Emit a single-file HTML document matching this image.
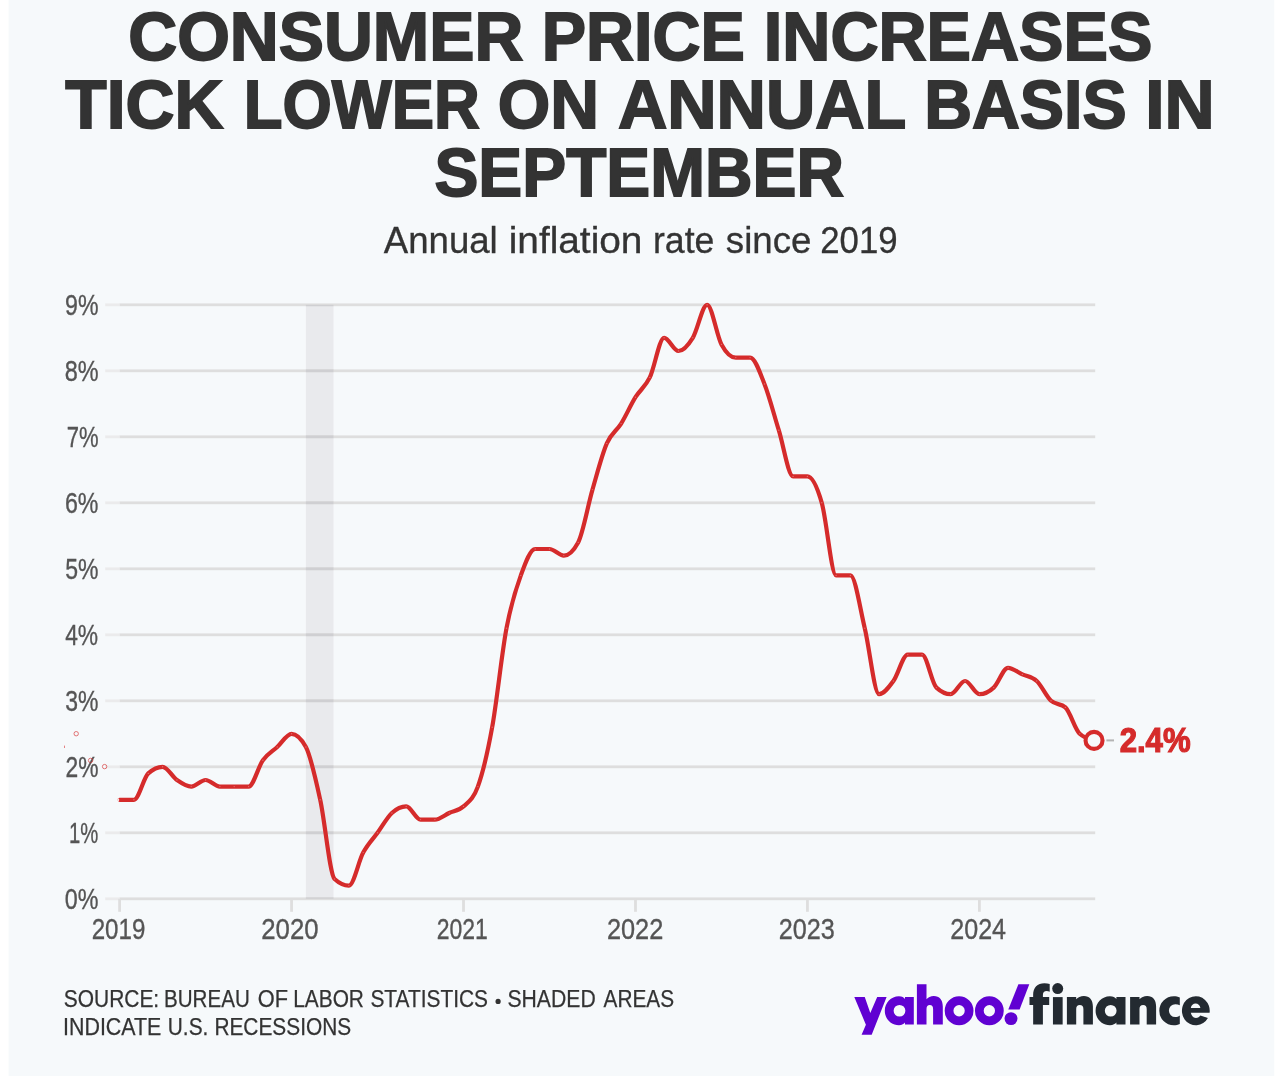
<!DOCTYPE html>
<html lang="en">
<head>
<meta charset="utf-8">
<title>Consumer price increases tick lower on annual basis in September</title>
<style>
html,body{margin:0;padding:0;background:#ffffff;}
body{width:1288px;height:1076px;overflow:hidden;font-family:"Liberation Sans",sans-serif;}
svg{display:block;}
svg text{font-family:"Liberation Sans",sans-serif;}
</style>
</head>
<body>
<svg width="1288" height="1076" viewBox="0 0 1288 1076" style="will-change:transform">
<rect x="0" y="0" width="1288" height="1076" fill="#ffffff"/>
<rect x="8.6" y="0" width="1265.6" height="1076" fill="#f6f9fb"/>
<g id="title">
<text x="128.22" y="60.0" font-size="68.6" font-weight="bold" fill="#333333" text-anchor="start" textLength="395.17" lengthAdjust="spacingAndGlyphs" stroke="#333333" stroke-width="1.8" stroke-linejoin="miter">CONSUMER</text>
<text x="541.71" y="60.0" font-size="68.6" font-weight="bold" fill="#333333" text-anchor="start" textLength="203.19" lengthAdjust="spacingAndGlyphs" stroke="#333333" stroke-width="1.8" stroke-linejoin="miter">PRICE</text>
<text x="763.8" y="60.0" font-size="68.6" font-weight="bold" fill="#333333" text-anchor="start" textLength="388.56" lengthAdjust="spacingAndGlyphs" stroke="#333333" stroke-width="1.8" stroke-linejoin="miter">INCREASES</text>
<text x="65.36" y="128.2" font-size="68.6" font-weight="bold" fill="#333333" text-anchor="start" textLength="157.96" lengthAdjust="spacingAndGlyphs" stroke="#333333" stroke-width="1.8" stroke-linejoin="miter">TICK</text>
<text x="243.71" y="128.2" font-size="68.6" font-weight="bold" fill="#333333" text-anchor="start" textLength="236.14" lengthAdjust="spacingAndGlyphs" stroke="#333333" stroke-width="1.8" stroke-linejoin="miter">LOWER</text>
<text x="497.63" y="128.2" font-size="68.6" font-weight="bold" fill="#333333" text-anchor="start" textLength="101.29" lengthAdjust="spacingAndGlyphs" stroke="#333333" stroke-width="1.8" stroke-linejoin="miter">ON</text>
<text x="617.96" y="128.2" font-size="68.6" font-weight="bold" fill="#333333" text-anchor="start" textLength="288.37" lengthAdjust="spacingAndGlyphs" stroke="#333333" stroke-width="1.8" stroke-linejoin="miter">ANNUAL</text>
<text x="924.13" y="128.2" font-size="68.6" font-weight="bold" fill="#333333" text-anchor="start" textLength="202.47" lengthAdjust="spacingAndGlyphs" stroke="#333333" stroke-width="1.8" stroke-linejoin="miter">BASIS</text>
<text x="1145.22" y="128.2" font-size="68.6" font-weight="bold" fill="#333333" text-anchor="start" textLength="69.43" lengthAdjust="spacingAndGlyphs" stroke="#333333" stroke-width="1.8" stroke-linejoin="miter">IN</text>
<text x="434.46" y="196.0" font-size="68.6" font-weight="bold" fill="#333333" text-anchor="start" textLength="409.57" lengthAdjust="spacingAndGlyphs" stroke="#333333" stroke-width="1.8" stroke-linejoin="miter">SEPTEMBER</text>
</g>
<g id="subtitle">
<text x="383.78" y="252.9" font-size="36.5" font-weight="normal" fill="#333333" text-anchor="start" textLength="113.98" lengthAdjust="spacingAndGlyphs" stroke="#333333" stroke-width="0.3">Annual</text>
<text x="508.69" y="252.9" font-size="36.5" font-weight="normal" fill="#333333" text-anchor="start" textLength="133.74" lengthAdjust="spacingAndGlyphs" stroke="#333333" stroke-width="0.3">inflation</text>
<text x="653.0" y="252.9" font-size="36.5" font-weight="normal" fill="#333333" text-anchor="start" textLength="61.43" lengthAdjust="spacingAndGlyphs" stroke="#333333" stroke-width="0.3">rate</text>
<text x="725.86" y="252.9" font-size="36.5" font-weight="normal" fill="#333333" text-anchor="start" textLength="85.52" lengthAdjust="spacingAndGlyphs" stroke="#333333" stroke-width="0.3">since</text>
<text x="820.31" y="252.9" font-size="36.5" font-weight="normal" fill="#333333" text-anchor="start" textLength="77.29" lengthAdjust="spacingAndGlyphs" stroke="#333333" stroke-width="0.3">2019</text>
</g>
<rect x="305.9" y="304.8" width="27.6" height="594" fill="#e9eaed"/>
<g id="grid">
<rect x="105.2" y="897.40" width="14.4" height="2.8" fill="#ebebec"/><rect x="119.6" y="897.40" width="975.6" height="2.8" fill="#dedede"/>
<rect x="105.2" y="831.40" width="14.4" height="2.8" fill="#ebebec"/><rect x="119.6" y="831.40" width="975.6" height="2.8" fill="#dedede"/>
<rect x="105.2" y="765.40" width="14.4" height="2.8" fill="#ebebec"/><rect x="119.6" y="765.40" width="975.6" height="2.8" fill="#dedede"/>
<rect x="105.2" y="699.40" width="14.4" height="2.8" fill="#ebebec"/><rect x="119.6" y="699.40" width="975.6" height="2.8" fill="#dedede"/>
<rect x="105.2" y="633.40" width="14.4" height="2.8" fill="#ebebec"/><rect x="119.6" y="633.40" width="975.6" height="2.8" fill="#dedede"/>
<rect x="105.2" y="567.40" width="14.4" height="2.8" fill="#ebebec"/><rect x="119.6" y="567.40" width="975.6" height="2.8" fill="#dedede"/>
<rect x="105.2" y="501.40" width="14.4" height="2.8" fill="#ebebec"/><rect x="119.6" y="501.40" width="975.6" height="2.8" fill="#dedede"/>
<rect x="105.2" y="435.40" width="14.4" height="2.8" fill="#ebebec"/><rect x="119.6" y="435.40" width="975.6" height="2.8" fill="#dedede"/>
<rect x="105.2" y="369.40" width="14.4" height="2.8" fill="#ebebec"/><rect x="119.6" y="369.40" width="975.6" height="2.8" fill="#dedede"/>
<rect x="105.2" y="303.40" width="14.4" height="2.8" fill="#ebebec"/><rect x="119.6" y="303.40" width="975.6" height="2.8" fill="#dedede"/>
<rect x="305.9" y="897.40" width="27.6" height="1.40" fill="#cfcfd2"/><rect x="305.9" y="831.40" width="27.6" height="2.80" fill="#cfcfd2"/><rect x="305.9" y="765.40" width="27.6" height="2.80" fill="#cfcfd2"/><rect x="305.9" y="699.40" width="27.6" height="2.80" fill="#cfcfd2"/><rect x="305.9" y="633.40" width="27.6" height="2.80" fill="#cfcfd2"/><rect x="305.9" y="567.40" width="27.6" height="2.80" fill="#cfcfd2"/><rect x="305.9" y="501.40" width="27.6" height="2.80" fill="#cfcfd2"/><rect x="305.9" y="435.40" width="27.6" height="2.80" fill="#cfcfd2"/><rect x="305.9" y="369.40" width="27.6" height="2.80" fill="#cfcfd2"/><rect x="305.9" y="304.80" width="27.6" height="1.40" fill="#cfcfd2"/>
<rect x="118.20" y="898.80" width="2.8" height="13" fill="#dedede"/><rect x="290.16" y="898.80" width="2.8" height="13" fill="#dedede"/><rect x="462.12" y="898.80" width="2.8" height="13" fill="#dedede"/><rect x="634.08" y="898.80" width="2.8" height="13" fill="#dedede"/><rect x="806.04" y="898.80" width="2.8" height="13" fill="#dedede"/><rect x="978.00" y="898.80" width="2.8" height="13" fill="#dedede"/>
</g>
<g id="ylabels">
<text x="64.77" y="909.1" font-size="29.5" font-weight="normal" fill="#555555" text-anchor="start" textLength="33.68" lengthAdjust="spacingAndGlyphs" stroke="#555555" stroke-width="0.35">0%</text>
<text x="69.03" y="843.1" font-size="29.5" font-weight="normal" fill="#555555" text-anchor="start" textLength="29.31" lengthAdjust="spacingAndGlyphs" stroke="#555555" stroke-width="0.35">1%</text>
<text x="65.53" y="777.1" font-size="29.5" font-weight="normal" fill="#555555" text-anchor="start" textLength="33.0" lengthAdjust="spacingAndGlyphs" stroke="#555555" stroke-width="0.35">2%</text>
<text x="65.3" y="711.1" font-size="29.5" font-weight="normal" fill="#555555" text-anchor="start" textLength="33.24" lengthAdjust="spacingAndGlyphs" stroke="#555555" stroke-width="0.35">3%</text>
<text x="65.17" y="645.1" font-size="29.5" font-weight="normal" fill="#555555" text-anchor="start" textLength="32.96" lengthAdjust="spacingAndGlyphs" stroke="#555555" stroke-width="0.35">4%</text>
<text x="65.15" y="579.1" font-size="29.5" font-weight="normal" fill="#555555" text-anchor="start" textLength="33.28" lengthAdjust="spacingAndGlyphs" stroke="#555555" stroke-width="0.35">5%</text>
<text x="64.92" y="513.1" font-size="29.5" font-weight="normal" fill="#555555" text-anchor="start" textLength="33.53" lengthAdjust="spacingAndGlyphs" stroke="#555555" stroke-width="0.35">6%</text>
<text x="66.65" y="447.1" font-size="29.5" font-weight="normal" fill="#555555" text-anchor="start" textLength="31.85" lengthAdjust="spacingAndGlyphs" stroke="#555555" stroke-width="0.35">7%</text>
<text x="64.67" y="381.1" font-size="29.5" font-weight="normal" fill="#555555" text-anchor="start" textLength="33.89" lengthAdjust="spacingAndGlyphs" stroke="#555555" stroke-width="0.35">8%</text>
<text x="65.11" y="315.1" font-size="29.5" font-weight="normal" fill="#555555" text-anchor="start" textLength="33.43" lengthAdjust="spacingAndGlyphs" stroke="#555555" stroke-width="0.35">9%</text>
</g>
<g id="xlabels">
<text x="91.67" y="939" font-size="29.5" font-weight="normal" fill="#555555" text-anchor="start" textLength="53.71" lengthAdjust="spacingAndGlyphs" stroke="#555555" stroke-width="0.35">2019</text>
<text x="261.29" y="939" font-size="29.5" font-weight="normal" fill="#555555" text-anchor="start" textLength="57.33" lengthAdjust="spacingAndGlyphs" stroke="#555555" stroke-width="0.35">2020</text>
<text x="436.63" y="939" font-size="29.5" font-weight="normal" fill="#555555" text-anchor="start" textLength="51.12" lengthAdjust="spacingAndGlyphs" stroke="#555555" stroke-width="0.35">2021</text>
<text x="606.91" y="939" font-size="29.5" font-weight="normal" fill="#555555" text-anchor="start" textLength="56.4" lengthAdjust="spacingAndGlyphs" stroke="#555555" stroke-width="0.35">2022</text>
<text x="778.81" y="939" font-size="29.5" font-weight="normal" fill="#555555" text-anchor="start" textLength="56.11" lengthAdjust="spacingAndGlyphs" stroke="#555555" stroke-width="0.35">2023</text>
<text x="950.22" y="939" font-size="29.5" font-weight="normal" fill="#555555" text-anchor="start" textLength="55.85" lengthAdjust="spacingAndGlyphs" stroke="#555555" stroke-width="0.35">2024</text>
</g>
<g fill="none" stroke="#d52b2b" stroke-width="0.8" opacity="0.8"><circle cx="76.2" cy="733.7" r="2.2"/><circle cx="90.6" cy="760.4" r="2.2"/><circle cx="104.6" cy="766.6" r="2.2"/><line x1="64.4" y1="745.6" x2="64.4" y2="748"/></g>
<path d="M119.60,799.80C124.38,799.80 129.15,799.80 133.93,799.80C138.71,799.80 143.48,777.80 148.26,773.40C153.04,769.00 157.81,766.80 162.59,766.80C167.37,766.80 172.14,776.70 176.92,780.00C181.70,783.30 186.47,786.60 191.25,786.60C196.03,786.60 200.80,780.00 205.58,780.00C210.36,780.00 215.13,786.60 219.91,786.60C224.69,786.60 229.46,786.60 234.24,786.60C239.02,786.60 243.79,786.60 248.57,786.60C253.35,786.60 258.12,766.80 262.90,760.20C267.68,753.60 272.45,751.40 277.23,747.00C282.01,742.60 286.78,733.80 291.56,733.80C296.34,733.80 301.11,738.20 305.89,747.00C310.67,755.80 315.44,777.80 320.22,799.80C325.00,821.80 329.77,874.60 334.55,879.00C339.33,883.40 344.10,885.60 348.88,885.60C353.66,885.60 358.43,861.40 363.21,852.60C367.99,843.80 372.76,839.40 377.54,832.80C382.32,826.20 387.09,817.40 391.87,813.00C396.65,808.60 401.42,806.40 406.20,806.40C410.98,806.40 415.75,819.60 420.53,819.60C425.31,819.60 430.08,819.60 434.86,819.60C439.64,819.60 444.41,815.20 449.19,813.00C453.97,810.80 458.74,810.80 463.52,806.40C468.30,802.00 473.07,799.80 477.85,786.60C482.63,773.40 487.40,753.60 492.18,727.20C496.96,700.80 501.73,653.50 506.51,628.20C511.29,602.90 516.06,588.60 520.84,575.40C525.62,562.20 530.39,549.00 535.17,549.00C539.95,549.00 544.72,549.00 549.50,549.00C554.28,549.00 559.05,555.60 563.83,555.60C568.61,555.60 573.38,551.20 578.16,542.40C582.94,533.60 587.71,506.10 592.49,489.60C597.27,473.10 602.04,454.40 606.82,443.40C611.60,432.40 616.37,431.30 621.15,423.60C625.93,415.90 630.70,404.90 635.48,397.20C640.26,389.50 645.03,387.30 649.81,377.40C654.59,367.50 659.36,337.80 664.14,337.80C668.92,337.80 673.69,351.00 678.47,351.00C683.25,351.00 688.02,345.50 692.80,337.80C697.58,330.10 702.35,304.80 707.13,304.80C711.91,304.80 716.68,335.60 721.46,344.40C726.24,353.20 731.01,357.60 735.79,357.60C740.57,357.60 745.34,357.60 750.12,357.60C754.90,357.60 759.67,371.90 764.45,384.00C769.23,396.10 774.00,414.80 778.78,430.20C783.56,445.60 788.33,476.40 793.11,476.40C797.89,476.40 802.66,476.40 807.44,476.40C812.22,476.40 816.99,486.30 821.77,502.80C826.55,519.30 831.32,575.40 836.10,575.40C840.88,575.40 845.65,575.40 850.43,575.40C855.21,575.40 859.98,608.40 864.76,628.20C869.54,648.00 874.31,694.20 879.09,694.20C883.87,694.20 888.64,687.60 893.42,681.00C898.20,674.40 902.97,654.60 907.75,654.60C912.53,654.60 917.30,654.60 922.08,654.60C926.86,654.60 931.63,683.20 936.41,687.60C941.19,692.00 945.96,694.20 950.74,694.20C955.52,694.20 960.29,681.00 965.07,681.00C969.85,681.00 974.62,694.20 979.40,694.20C984.18,694.20 988.95,692.00 993.73,687.60C998.51,683.20 1003.28,667.80 1008.06,667.80C1012.84,667.80 1017.61,672.20 1022.39,674.40C1027.17,676.60 1031.94,676.60 1036.72,681.00C1041.50,685.40 1046.27,696.40 1051.05,700.80C1055.83,705.20 1060.60,703.00 1065.38,707.40C1070.16,711.80 1074.93,729.40 1079.71,733.80C1084.49,738.20 1089.26,739.30 1094.04,740.40" fill="none" stroke="#d52b2b" stroke-width="4.2" stroke-linejoin="round" stroke-linecap="round"/>
<g fill="#ffffff" opacity="0.3"><circle cx="133.9" cy="799.8" r="0.7"/><circle cx="148.3" cy="773.4" r="0.7"/><circle cx="162.6" cy="766.8" r="0.7"/><circle cx="176.9" cy="780.0" r="0.7"/><circle cx="191.2" cy="786.6" r="0.7"/><circle cx="205.6" cy="780.0" r="0.7"/><circle cx="219.9" cy="786.6" r="0.7"/><circle cx="234.2" cy="786.6" r="0.7"/><circle cx="248.6" cy="786.6" r="0.7"/><circle cx="262.9" cy="760.2" r="0.7"/><circle cx="277.2" cy="747.0" r="0.7"/><circle cx="291.6" cy="733.8" r="0.7"/><circle cx="305.9" cy="747.0" r="0.7"/><circle cx="320.2" cy="799.8" r="0.7"/><circle cx="334.5" cy="879.0" r="0.7"/><circle cx="348.9" cy="885.6" r="0.7"/><circle cx="363.2" cy="852.6" r="0.7"/><circle cx="377.5" cy="832.8" r="0.7"/><circle cx="391.9" cy="813.0" r="0.7"/><circle cx="406.2" cy="806.4" r="0.7"/><circle cx="420.5" cy="819.6" r="0.7"/><circle cx="434.9" cy="819.6" r="0.7"/><circle cx="449.2" cy="813.0" r="0.7"/><circle cx="463.5" cy="806.4" r="0.7"/><circle cx="477.9" cy="786.6" r="0.7"/><circle cx="492.2" cy="727.2" r="0.7"/><circle cx="506.5" cy="628.2" r="0.7"/><circle cx="520.8" cy="575.4" r="0.7"/><circle cx="535.2" cy="549.0" r="0.7"/><circle cx="549.5" cy="549.0" r="0.7"/><circle cx="563.8" cy="555.6" r="0.7"/><circle cx="578.2" cy="542.4" r="0.7"/><circle cx="592.5" cy="489.6" r="0.7"/><circle cx="606.8" cy="443.4" r="0.7"/><circle cx="621.1" cy="423.6" r="0.7"/><circle cx="635.5" cy="397.2" r="0.7"/><circle cx="649.8" cy="377.4" r="0.7"/><circle cx="664.1" cy="337.8" r="0.7"/><circle cx="678.5" cy="351.0" r="0.7"/><circle cx="692.8" cy="337.8" r="0.7"/><circle cx="707.1" cy="304.8" r="0.7"/><circle cx="721.5" cy="344.4" r="0.7"/><circle cx="735.8" cy="357.6" r="0.7"/><circle cx="750.1" cy="357.6" r="0.7"/><circle cx="764.5" cy="384.0" r="0.7"/><circle cx="778.8" cy="430.2" r="0.7"/><circle cx="793.1" cy="476.4" r="0.7"/><circle cx="807.4" cy="476.4" r="0.7"/><circle cx="821.8" cy="502.8" r="0.7"/><circle cx="836.1" cy="575.4" r="0.7"/><circle cx="850.4" cy="575.4" r="0.7"/><circle cx="864.8" cy="628.2" r="0.7"/><circle cx="879.1" cy="694.2" r="0.7"/><circle cx="893.4" cy="681.0" r="0.7"/><circle cx="907.8" cy="654.6" r="0.7"/><circle cx="922.1" cy="654.6" r="0.7"/><circle cx="936.4" cy="687.6" r="0.7"/><circle cx="950.7" cy="694.2" r="0.7"/><circle cx="965.1" cy="681.0" r="0.7"/><circle cx="979.4" cy="694.2" r="0.7"/><circle cx="993.7" cy="687.6" r="0.7"/><circle cx="1008.1" cy="667.8" r="0.7"/><circle cx="1022.4" cy="674.4" r="0.7"/><circle cx="1036.7" cy="681.0" r="0.7"/><circle cx="1051.0" cy="700.8" r="0.7"/><circle cx="1065.4" cy="707.4" r="0.7"/><circle cx="1079.7" cy="733.8" r="0.7"/></g>
<ellipse cx="118.3" cy="799.80" rx="0.9" ry="1.6" fill="#ffffff" opacity="0.85"/>
<rect x="1106.4" y="739.40" width="7.6" height="2" fill="#b4b4b4"/>
<circle cx="1094.04" cy="740.40" r="8.5" fill="#f6f9fb" stroke="#d52b2b" stroke-width="4.1"/>
<text x="1119.64" y="751.9" font-size="34.6" font-weight="bold" fill="#d52b2b" text-anchor="start" textLength="70.98" lengthAdjust="spacingAndGlyphs" stroke="#d52b2b" stroke-width="1.2" stroke-linejoin="miter">2.4%</text>
<g id="source">
<text x="63.78" y="1006.9" font-size="23.0" font-weight="normal" fill="#333333" text-anchor="start" textLength="95.4" lengthAdjust="spacingAndGlyphs" stroke="#333333" stroke-width="0.25">SOURCE:</text>
<text x="164.04" y="1006.9" font-size="23.0" font-weight="normal" fill="#333333" text-anchor="start" textLength="85.71" lengthAdjust="spacingAndGlyphs" stroke="#333333" stroke-width="0.25">BUREAU</text>
<text x="257.8" y="1006.9" font-size="23.0" font-weight="normal" fill="#333333" text-anchor="start" textLength="30.24" lengthAdjust="spacingAndGlyphs" stroke="#333333" stroke-width="0.25">OF</text>
<text x="293.21" y="1006.9" font-size="23.0" font-weight="normal" fill="#333333" text-anchor="start" textLength="70.72" lengthAdjust="spacingAndGlyphs" stroke="#333333" stroke-width="0.25">LABOR</text>
<text x="370.38" y="1006.9" font-size="23.0" font-weight="normal" fill="#333333" text-anchor="start" textLength="117.63" lengthAdjust="spacingAndGlyphs" stroke="#333333" stroke-width="0.25">STATISTICS</text>
<text x="507.47" y="1006.9" font-size="23.0" font-weight="normal" fill="#333333" text-anchor="start" textLength="88.21" lengthAdjust="spacingAndGlyphs" stroke="#333333" stroke-width="0.25">SHADED</text>
<text x="603.58" y="1006.9" font-size="23.0" font-weight="normal" fill="#333333" text-anchor="start" textLength="70.53" lengthAdjust="spacingAndGlyphs" stroke="#333333" stroke-width="0.25">AREAS</text>
<text x="63.06" y="1035.0" font-size="23.0" font-weight="normal" fill="#333333" text-anchor="start" textLength="98.31" lengthAdjust="spacingAndGlyphs" stroke="#333333" stroke-width="0.25">INDICATE</text>
<text x="167.82" y="1035.0" font-size="23.0" font-weight="normal" fill="#333333" text-anchor="start" textLength="40.55" lengthAdjust="spacingAndGlyphs" stroke="#333333" stroke-width="0.25">U.S.</text>
<text x="214.42" y="1035.0" font-size="23.0" font-weight="normal" fill="#333333" text-anchor="start" textLength="136.7" lengthAdjust="spacingAndGlyphs" stroke="#333333" stroke-width="0.25">RECESSIONS</text>
<circle cx="498.1" cy="1001.4" r="2.6" fill="#333333"/>
</g>
<g id="logo">
<g fill="#6001d2">
<path d="M854.3,997 L864.75,997 L870.3,1013 L877.2,997 L886.6,997 L871.7,1034.8 L861.6,1034.8 L865.9,1024.7 Z"/>
<path fill-rule="evenodd" d="M898.9,996.2 C902,996.2 904,997.6 905,998.9 L905,997 L913.8,997 L913.8,1024.5 L905,1024.5 L905,1022.6 C904,1023.9 902,1025.3 898.9,1025.3 C891,1025.3 884.8,1018.8 884.8,1010.75 C884.8,1002.7 891,996.2 898.9,996.2 Z M899.5,1004.9 A5.85,5.85 0 1 0 899.5,1016.6 A5.85,5.85 0 1 0 899.5,1004.9 Z"/>
<path d="M916.9,984.3 L926.5,984.3 L926.5,999.3 C928,997.4 930.6,996.1 933.8,996.1 C939.4,996.1 942.8,999.9 942.8,1006.6 L942.8,1024.5 L933.1,1024.5 L933.1,1008.9 C933.1,1006.3 932,1004.9 929.8,1004.9 C927.6,1004.9 926.5,1006.3 926.5,1008.9 L926.5,1024.5 L916.9,1024.5 Z"/>
<path fill-rule="evenodd" d="M959.1,996.2 A14.4,14.55 0 1 0 959.1,1025.3 A14.4,14.55 0 1 0 959.1,996.2 Z M959.1,1005.1 A5.65,5.65 0 1 1 959.1,1016.4 A5.65,5.65 0 1 1 959.1,1005.1 Z"/>
<path fill-rule="evenodd" d="M989.35,996.2 A14.4,14.55 0 1 0 989.35,1025.3 A14.4,14.55 0 1 0 989.35,996.2 Z M989.35,1005.1 A5.65,5.65 0 1 1 989.35,1016.4 A5.65,5.65 0 1 1 989.35,1005.1 Z"/>
<path d="M1018.4,984.3 L1029.3,984.3 L1019.6,1009.4 L1008.3,1009.4 Z"/>
<circle cx="1011" cy="1018.6" r="6.45"/>
</g>
<g fill="#232a31">
<path d="M1033.15,1024.5 L1033.15,1004.9 L1029.5,1004.9 L1029.5,997.1 L1033.15,997.1 L1033.15,994.6 C1033.15,987.6 1037.4,983.2 1044.4,983.2 C1046.5,983.2 1048.3,983.5 1049.7,984.1 L1049.7,991.7 C1048.7,991.3 1047.7,991.1 1046.6,991.1 C1044.2,991.1 1042.9,992.4 1042.9,994.9 L1042.9,997.1 L1049.2,997.1 L1049.2,1004.9 L1042.9,1004.9 L1042.9,1024.5 Z"/>
<circle cx="1057.7" cy="988.6" r="5.5"/>
<rect x="1052.95" y="997.1" width="9.7" height="27.4"/>
<path d="M1066.9,997.1 L1076.2,997.1 L1076.2,999.3 C1077.8,997.4 1080.6,996.1 1083.9,996.1 C1089.5,996.1 1092.9,999.9 1092.9,1006.6 L1092.9,1024.5 L1083.4,1024.5 L1083.4,1008.9 C1083.4,1006.3 1082.2,1004.9 1079.8,1004.9 C1077.4,1004.9 1076.2,1006.3 1076.2,1008.9 L1076.2,1024.5 L1066.9,1024.5 Z"/>
<path fill-rule="evenodd" d="M1109.9,996.2 C1113,996.2 1115.3,997.6 1116.4,998.9 L1116.4,997 L1125.5,997 L1125.5,1024.5 L1116.4,1024.5 L1116.4,1022.6 C1115.3,1023.9 1113,1025.3 1109.9,1025.3 C1101.9,1025.3 1095.6,1018.8 1095.6,1010.75 C1095.6,1002.7 1101.9,996.2 1109.9,996.2 Z M1110.7,1004.9 A5.85,5.85 0 1 0 1110.7,1016.6 A5.85,5.85 0 1 0 1110.7,1004.9 Z"/>
<path d="M1130.1,997.1 L1139.5,997.1 L1139.5,999.3 C1141.1,997.4 1143.9,996.1 1147.2,996.1 C1152.8,996.1 1156.1,999.9 1156.1,1006.6 L1156.1,1024.5 L1146.7,1024.5 L1146.7,1008.9 C1146.7,1006.3 1145.5,1004.9 1143.1,1004.9 C1140.7,1004.9 1139.5,1006.3 1139.5,1008.9 L1139.5,1024.5 L1130.1,1024.5 Z"/>
<path d="M1179.8,1005.2 L1179.8,997.6 C1178,996.7 1176,996.2 1173.8,996.2 A14.5,14.55 0 1 0 1173.8,1025.3 C1176,1025.3 1178,1024.8 1179.8,1023.9 L1179.8,1015.5 C1178.5,1016.5 1177,1017 1175.3,1017 A6.4,6.4 0 1 1 1175.3,1004.2 C1177,1004.2 1178.5,1004.6 1179.8,1005.2 Z"/>
<path fill-rule="evenodd" d="M1209.6,1012.8 L1190.8,1012.8 C1191.4,1015.9 1193.4,1017.9 1196,1017.9 C1197.8,1017.9 1199.3,1017 1200.4,1015.4 L1207.9,1018 A13.9,14.55 0 1 1 1209.6,1012.8 Z M1190.8,1007.9 C1191.3,1005.3 1193.2,1003.5 1195.6,1003.5 C1198,1003.5 1199.9,1005.3 1200.4,1007.9 Z"/>
</g>
</g>
</svg>
</body>
</html>
